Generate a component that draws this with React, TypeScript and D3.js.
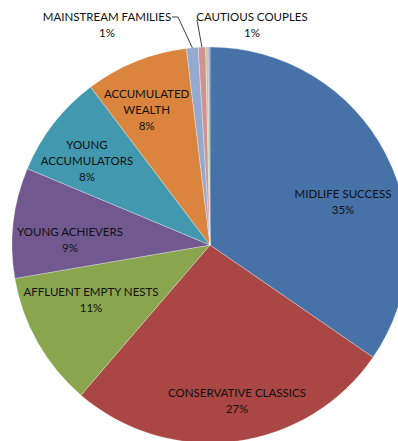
import React from "react";
import * as d3 from "d3";

const categories = [
  "MIDLIFE SUCCESS",
  "CONSERVATIVE CLASSICS",
  "AFFLUENT EMPTY NESTS",
  "YOUNG ACHIEVERS",
  "YOUNG ACCUMULATORS",
  "ACCUMULATED WEALTH",
  "MAINSTREAM FAMILIES",
  "CAUTIOUS COUPLES",
  "OTHER A",
  "OTHER B",
];
const values = [34.6, 26.7, 11.0, 9.0, 8.4, 8.4, 0.95, 0.6, 0.2, 0.15];
const percentLabels = ["35%", "27%", "11%", "9%", "8%", "8%", "1%", "1%", "", ""];
const labelLines = [
  ["MIDLIFE SUCCESS"],
  ["CONSERVATIVE CLASSICS"],
  ["AFFLUENT EMPTY NESTS"],
  ["YOUNG ACHIEVERS"],
  ["YOUNG", "ACCUMULATORS"],
  ["ACCUMULATED", "WEALTH"],
  ["MAINSTREAM FAMILIES"],
  ["CAUTIOUS COUPLES"],
  [],
  [],
];
const colors = [
  "#4672A8",
  "#AA4643",
  "#89A54E",
  "#71588F",
  "#4198AF",
  "#DB843D",
  "#93A9CF",
  "#D19392",
  "#B9CD96",
  "#A99BBD",
];

// label layout: [radius factor, angle offset in degrees] for inside labels
const insideLayout: ([number, number] | null)[] = [
  [0.708, 9.3],
  [0.794, -2.5],
  [0.66, 5.1],
  [0.708, -4.0],
  [0.754, -3.3],
  [0.756, -3.1],
  null,
  null,
  null,
  null,
];
// outside labels: text block center and elbow point
const outsideLayout: ({ x: number; y: number; ex: number; ey: number; sx: number } | null)[] = [
  null, null, null, null, null, null,
  { x: 107, y: 24, sx: 172, ex: 178, ey: 17 },
  { x: 252, y: 24, sx: 197, ex: 197, ey: 20 },
  null, null,
];

const W = 398;
const H = 441;
const cx = 210;
const cy = 245;
const R = 198;
const lineH = 16;
const FONT = "Lato, 'Open Sans', sans-serif";

export default function App() {
  const pie = d3.pie<number>().sort(null).value((d) => d);
  const arcs = pie(values);
  const arcGen = d3.arc<d3.PieArcDatum<number>>().innerRadius(0).outerRadius(R);
  const edgeArc = d3.arc<d3.PieArcDatum<number>>().innerRadius(R).outerRadius(R);

  return (
    <svg
      width={W}
      height={H}
      style={{ position: "fixed", left: 0, top: 0, background: "#fff" }}
    >
      <g transform={`translate(${cx},${cy})`}>
        {arcs.map((a, i) => (
          <path
            key={categories[i]}
            d={arcGen(a) || ""}
            fill={colors[i]}
            stroke="#ffffff"
            strokeWidth={0.5}
            strokeOpacity={0.6}
          />
        ))}
      </g>
      {arcs.map((a, i) => {
        const lay = insideLayout[i];
        if (!lay) return null;
        const mid = (a.startAngle + a.endAngle) / 2 + (lay[1] * Math.PI) / 180;
        const rr = lay[0] * R;
        const x = cx + rr * Math.sin(mid);
        const y = cy - rr * Math.cos(mid);
        const lines = [...labelLines[i], percentLabels[i]];
        const y0 = y - ((lines.length - 1) * lineH) / 2;
        return (
          <text
            key={"l" + i}
            x={x}
            fontFamily={FONT}
            fontSize={11.5}
            fill="#111"
            textAnchor="middle"
            dominantBaseline="central"
          >
            {lines.map((t, k) => (
              <tspan key={k} x={x} y={y0 + k * lineH}>
                {t}
              </tspan>
            ))}
          </text>
        );
      })}
      {arcs.map((a, i) => {
        const lay = outsideLayout[i];
        if (!lay) return null;
        const [px, py] = edgeArc.centroid(a);
        const lines = [...labelLines[i], percentLabels[i]];
        const y0 = lay.y - ((lines.length - 1) * lineH) / 2;
        return (
          <g key={"o" + i}>
            <polyline
              points={`${lay.sx},${lay.ey} ${lay.ex},${lay.ey} ${cx + px},${cy + py}`}
              fill="none"
              stroke="#000"
              strokeWidth={0.75}
            />
            <text
              fontFamily={FONT}
              fontSize={11.5}
              fill="#111"
              textAnchor="middle"
              dominantBaseline="central"
            >
              {lines.map((t, k) => (
                <tspan key={k} x={lay.x} y={y0 + k * lineH}>
                  {t}
                </tspan>
              ))}
            </text>
          </g>
        );
      })}
    </svg>
  );
}
